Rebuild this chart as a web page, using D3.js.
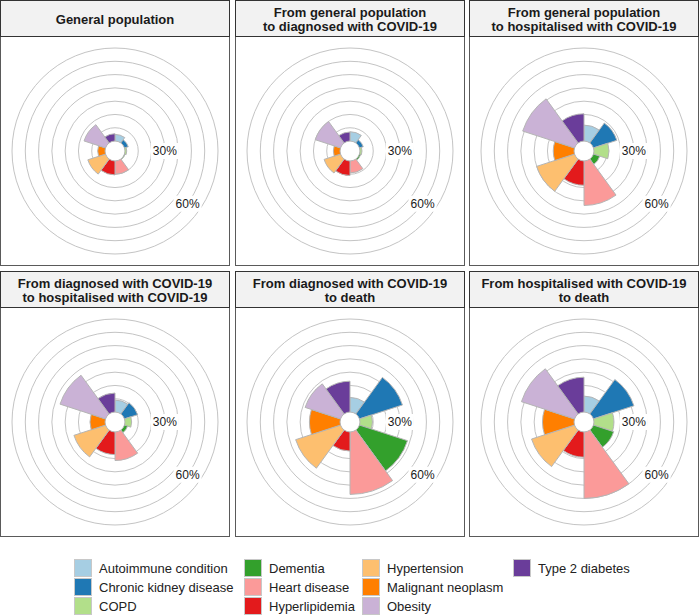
<!DOCTYPE html>
<html>
<head>
<meta charset="utf-8">
<script src="https://cdn.jsdelivr.net/npm/d3@7"></script>
<style>
  body { margin: 0; background: #fff; }
  text { font-family: "Liberation Sans", Arial, sans-serif; }
</style>
</head>
<body>
<script>
// categories in clockwise order from 12 o'clock
const categories = [
    "Autoimmune condition", "Chronic kidney disease", "COPD", "Dementia",
    "Heart disease", "Hyperlipidemia", "Hypertension", "Malignant neoplasm",
    "Obesity", "Type 2 diabetes"
];
const colors = [
    "#a6cee3", "#1f78b4", "#b2df8a", "#33a02c", "#fb9a99",
    "#e31a1c", "#fdbf6f", "#ff7f00", "#cab2d6", "#6a3d9a"
];

const panelTitles = [
    "General population",
    "From general population\nto diagnosed with COVID-19",
    "From general population\nto hospitalised with COVID-19",
    "From diagnosed with COVID-19\nto hospitalised with COVID-19",
    "From diagnosed with COVID-19\nto death",
    "From hospitalised with COVID-19\nto death"
];

// percentage values, same order as categories
const generalPopulation   = [5, 3, 1.3, 0.5, 10, 10.5, 14, 5.5, 17, 5.5];
const generalToDiagnosed  = [7, 3, 1.5, 1, 9, 11, 13, 5, 20, 6.8];
const generalToHospital   = [12, 18.5, 11.3, 5, 33.5, 18.3, 30, 15.6, 41, 20.5];
const diagnosedToHospital = [9, 10.4, 5, 2.5, 21.5, 17, 25, 11.3, 36, 14.3];
const diagnosedToDeath    = [11, 34, 9.4, 38, 47, 14.4, 35.5, 23, 28, 23.2];
const hospitalToDeath     = [12, 32, 15, 16, 50, 19, 34, 23.7, 42, 26.2];

const panelValues = [
    generalPopulation, generalToDiagnosed, generalToHospital,
    diagnosedToHospital, diagnosedToDeath, hospitalToDeath
];

const gridBreaks = [10, 20, 30, 40, 50, 60, 70];
const axisLabels = [{ cat: "COPD", v: 30 }, { cat: "Dementia", v: 60 }];

const width = 700, height = 615;
const panelSize = 229, stripH = 36;
const colX = [0.5, 235.5, 469.5];
const rowY = [0.5, 271.5];

const svg = d3.select("body").append("svg")
    .attr("width", width)
    .attr("height", height);

const angle = d3.scaleBand()
    .domain(categories)
    .range([0, 2 * Math.PI])
    .padding(0);

const radius = d3.scaleLinear()
    .domain([-7.5, 70])
    .range([0, 103]);

const arc = d3.arc()
    .innerRadius(radius(0))
    .outerRadius(d => radius(d.v))
    .startAngle(d => angle(d.cat))
    .endAngle(d => angle(d.cat) + angle.bandwidth());

panelTitles.forEach((title, k) => {
    const x0 = colX[k % 3], y0 = rowY[Math.floor(k / 3)];
    const g = svg.append("g");

    // panel + strip
    g.append("rect")
        .attr("x", x0).attr("y", y0 + stripH)
        .attr("width", panelSize).attr("height", panelSize)
        .attr("fill", "#fff")
        .attr("stroke", "#5a5a5a");
    g.append("rect")
        .attr("x", x0).attr("y", y0)
        .attr("width", panelSize).attr("height", stripH)
        .attr("fill", "#f2f2f2")
        .attr("stroke", "#333");

    const lines = title.split("\n");
    const base = lines.length === 1 ? [23.5] : [16.5, 30.5];
    lines.forEach((ln, i) => {
        g.append("text")
            .attr("x", x0 + panelSize / 2)
            .attr("y", y0 + base[i])
            .attr("text-anchor", "middle")
            .attr("font-size", 13)
            .attr("font-weight", "bold")
            .attr("fill", "#1a1a1a")
            .text(ln);
    });

    const cx = x0 + panelSize / 2, cy = y0 + stripH + panelSize / 2;
    const plot = g.append("g").attr("transform", `translate(${cx},${cy})`);

    // grid rings
    plot.selectAll("circle.ring")
        .data(gridBreaks)
        .join("circle")
        .attr("class", "ring")
        .attr("r", d => radius(d))
        .attr("fill", "none")
        .attr("stroke", "#c4c4c4")
        .attr("stroke-width", 1);

    // bars
    const data = categories.map((c, i) => ({ cat: c, v: panelValues[k][i], col: colors[i] }));
    plot.selectAll("path.bar")
        .data(data)
        .join("path")
        .attr("class", "bar")
        .attr("d", arc)
        .attr("fill", d => d.col)
        .attr("stroke", "#b5b5b5")
        .attr("stroke-width", 1);

    // percentage labels with white background
    axisLabels.forEach(l => {
        const a = angle(l.cat) + angle.bandwidth() / 2;
        const r = radius(l.v);
        const lx = r * Math.sin(a), ly = -r * Math.cos(a);
        plot.append("rect")
            .attr("x", lx - 14).attr("y", ly - 8)
            .attr("width", 28).attr("height", 16)
            .attr("fill", "#fff");
        plot.append("text")
            .attr("x", lx).attr("y", ly + 4.3)
            .attr("text-anchor", "middle")
            .attr("font-size", 12)
            .attr("fill", "#1a1a1a")
            .text(l.v + "%");
    });
});

// legend, filled column by column, 3 rows
const legendColX = [74, 244, 362, 513];
const legendRowY = [559.5, 578.5, 597.5];
categories.forEach((c, i) => {
    const col = Math.floor(i / 3), row = i % 3;
    const lg = svg.append("g");
    lg.append("rect")
        .attr("x", legendColX[col] + 0.5).attr("y", legendRowY[row])
        .attr("width", 17).attr("height", 17)
        .attr("fill", colors[i])
        .attr("stroke", "#c8c8c8");
    lg.append("text")
        .attr("x", legendColX[col] + 25)
        .attr("y", legendRowY[row] + 13)
        .attr("font-size", 13)
        .attr("fill", "#222")
        .text(c);
});
</script>
</body>
</html>
